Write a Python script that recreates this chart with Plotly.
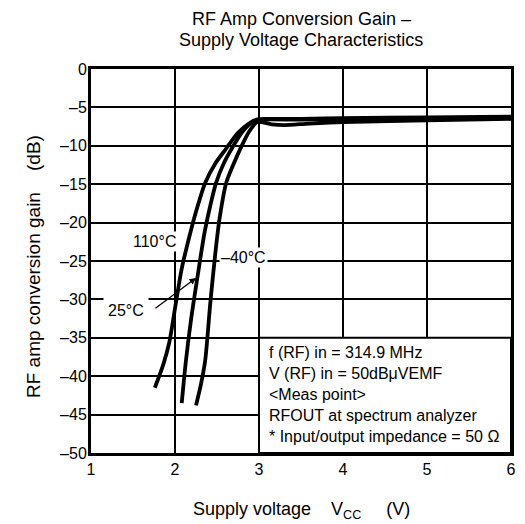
import plotly.graph_objects as go

# Data
x_110 = [1.76, 1.86, 1.93, 2.01, 2.08, 2.16, 2.26, 2.36, 2.48, 2.60, 2.75, 2.88, 2.97, 3.10, 3.50, 4.00, 5.00, 6.00]
y_110 = [-41.5, -38.5, -35.7, -30.5, -26.0, -22.3, -18.2, -14.8, -12.3, -10.5, -8.3, -7.1, -6.6, -6.5, -6.5, -6.4, -6.3, -6.2]

x_25 = [2.08, 2.13, 2.19, 2.28, 2.35, 2.42, 2.49, 2.58, 2.69, 2.80, 2.92, 3.02, 3.50, 4.00, 5.00, 6.00]
y_25 = [-43.5, -38.0, -32.7, -26.2, -21.4, -17.8, -14.8, -12.3, -10.1, -8.2, -6.9, -6.6, -6.6, -6.5, -6.4, -6.3]

x_m40 = [2.25, 2.31, 2.36, 2.42, 2.48, 2.53, 2.61, 2.70, 2.79, 2.88, 2.98, 3.15, 3.30, 3.60, 4.00, 5.00, 6.00]
y_m40 = [-43.8, -41.0, -37.9, -30.5, -24.0, -19.5, -14.8, -12.3, -10.1, -8.2, -6.9, -7.2, -7.3, -7.1, -6.9, -6.7, -6.5]

x_ticks = [1, 2, 3, 4, 5, 6]
y_ticks = [0, -5, -10, -15, -20, -25, -30, -35, -40, -45, -50]
y_ticktext = ["0", "–5", "–10", "–15", "–20", "–25", "–30", "–35", "–40", "–45", "–50"]

note_lines = [
    "f (RF) in = 314.9 MHz",
    "V (RF) in = 50dBμVEMF",
    "&lt;Meas point&gt;",
    "RFOUT at spectrum analyzer",
    "* Input/output impedance = 50 Ω",
]

FONT = "Liberation Sans, Arial, Helvetica, sans-serif"

fig = go.Figure()
for xs, ys in [(x_110, y_110), (x_25, y_25), (x_m40, y_m40)]:
    fig.add_trace(go.Scatter(x=xs, y=ys, mode="lines",
                             line=dict(color="black", width=3.8, shape="spline", smoothing=0.8),
                             showlegend=False, hoverinfo="skip"))

fig.update_layout(
    width=525, height=524,
    margin=dict(l=91, r=9, t=69, b=71),
    paper_bgcolor="white", plot_bgcolor="white",
    font=dict(family=FONT, color="black", size=16),
    showlegend=False,
)
fig.update_xaxes(range=[1, 6], tickvals=x_ticks, ticks="", showgrid=True,
                 gridcolor="black", gridwidth=1.5, zeroline=False,
                 showline=True, linecolor="black", linewidth=3, mirror=True,
                 tickfont=dict(size=16), ticklabelstandoff=0)
fig.update_yaxes(range=[-50, 0], tickvals=y_ticks, ticktext=y_ticktext, ticks="",
                 showgrid=True, gridcolor="black", gridwidth=1.5, zeroline=False,
                 showline=True, linecolor="black", linewidth=3, mirror=True,
                 tickfont=dict(size=16), ticklabelstandoff=-2)

# Conditions box
fig.add_shape(type="rect", x0=3, x1=6, y0=-50, y1=-35, xref="x", yref="y",
              fillcolor="white", line=dict(color="black", width=2), layer="above")
for i, t in enumerate(note_lines):
    fig.add_annotation(x=3.1, y=-36.85 - i * 2.76, xref="x", yref="y", text=t,
                       showarrow=False, xanchor="left", yanchor="middle",
                       font=dict(size=16))

# Curve labels
fig.add_annotation(x=1.75, y=-22.5, text="110°C", showarrow=False, bgcolor="white",
                   font=dict(size=16), borderpad=1)
fig.add_annotation(x=2.82, y=-24.6, text="–40°C", showarrow=False, bgcolor="white",
                   font=dict(size=16), borderpad=1)
fig.add_annotation(x=1.42, y=-31.5, text="25°C", showarrow=False, bgcolor="white",
                   font=dict(size=16), borderpad=4)
fig.add_annotation(x=2.25, y=-27.2, ax=1.75, ay=-31.3, xref="x", yref="y",
                   axref="x", ayref="y", text="", showarrow=True,
                   arrowhead=2, arrowsize=1, arrowwidth=1.3, arrowcolor="black")

# Titles
fig.add_annotation(x=0.5, y=1, xref="paper", yref="paper", yshift=50, text="RF Amp Conversion Gain –",
                   showarrow=False, font=dict(size=18), yanchor="middle")
fig.add_annotation(x=0.5, y=1, xref="paper", yref="paper", yshift=29, text="Supply Voltage Characteristics",
                   showarrow=False, font=dict(size=18), yanchor="middle")
fig.add_annotation(x=0.5, y=0, xref="paper", yref="paper", yshift=-57,
                   text="Supply voltage\u00a0\u00a0\u00a0\u00a0V<sub>CC</sub>\u00a0\u00a0\u00a0\u00a0\u00a0(V)",
                   showarrow=False, font=dict(size=18), yanchor="middle")
fig.add_annotation(x=0, y=0.5, xref="paper", yref="paper", xshift=-58, yshift=-6,
                   text="RF amp conversion gain\u00a0\u00a0\u00a0\u00a0(dB)", textangle=-90,
                   showarrow=False, font=dict(size=19), xanchor="center")

fig.write_html("out.html", config={"displayModeBar": False})

# remove default page margin so the figure sits at the window origin
with open("out.html", "r", encoding="utf-8") as f:
    html = f.read()
html = html.replace("<head>", "<head><style>html,body{margin:0;padding:0;overflow:hidden;}</style>", 1)
with open("out.html", "w", encoding="utf-8") as f:
    f.write(html)
